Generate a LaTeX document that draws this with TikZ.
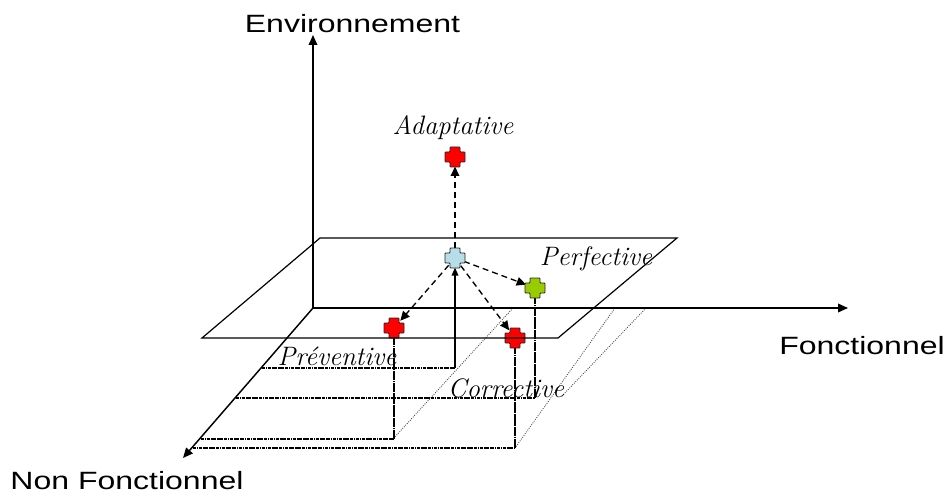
\documentclass[tikz,border=0pt]{standalone}
\usepackage{fontspec}
\setsansfont{Liberation Sans}
\usepackage{graphicx}
\usetikzlibrary{arrows.meta}
\definecolor{crossred}{HTML}{FF0000}
\definecolor{crossblue}{HTML}{B6DDE8}
\definecolor{crossgreen}{HTML}{99CC00}
\begin{document}
\begin{tikzpicture}[x=0.75pt,y=-0.75pt,
  axis/.style={line width=1.1pt,-{Triangle[length=7.5pt,width=6.5pt]}},
  planeline/.style={line width=0.9pt},
  proj/.style={line width=1pt,dash pattern=on 2.5pt off 0.6pt on 0.6pt off 0.6pt},
  vproj/.style={line width=1pt,dash pattern=on 7pt off 0.6pt on 0.6pt off 0.6pt},
  boxline/.style={line width=0.65pt,black!75,densely dotted},
  dasharrow/.style={line width=1pt,dash pattern=on 4.5pt off 3pt,-{Triangle[length=7pt,width=6.5pt]}},
  crossmark/.style={circle,minimum size=14pt,inner sep=0pt},
  crossshape/.style={line width=0.6pt,draw=black!85,rounded corners=0.6pt},
  axislabel/.style={font=\sffamily\fontsize{18.75pt}{22pt}\selectfont,inner sep=0pt,anchor=base},
  typelabel/.style={font=\itshape\fontsize{20pt}{24pt}\selectfont,inner sep=0pt,anchor=base},
]
\useasboundingbox (0,0) rectangle (949,499);

% axes
\coordinate (O) at (313,308);
\coordinate (envtip) at (313,35);
\coordinate (fonctip) at (848,308);
\coordinate (nftip) at (183,458);

% thin box lines
\draw[boxline] (513,308) -- (393,439);
\draw[boxline] (615,308) -- (515,448);
\draw[boxline] (646,308) -- (562,396);

% crosses (positions)
\node[crossmark] (adapt) at (455,157) {};
\node[crossmark] (centre) at (455,258) {};
\node[crossmark] (perf) at (535,288) {};
\node[crossmark] (prev) at (394,328) {};
\node[crossmark] (corr) at (515,338) {};

% projection corners
\coordinate (a1) at (262,368); \coordinate (b1) at (455,368);
\coordinate (a2) at (236,398); \coordinate (b2) at (535,398);
\coordinate (a3) at (201,439); \coordinate (b3) at (394,439);
\coordinate (a4) at (193,448); \coordinate (b4) at (515,448);

\draw[proj] (a1) -- (b1);
\draw[proj] (a2) -- (b2);
\draw[proj] (a3) -- (b3);
\draw[proj] (a4) -- (b4);
\draw[line width=1pt,-{Triangle[length=6pt,width=5pt]}] (b1) -- (centre);
\draw[vproj] (b2) -- (perf);
\draw[vproj] (b3) -- (prev);
\draw[vproj] (b4) -- (corr);

% axes
\draw[axis] (O) -- (envtip);
\draw[axis] (O) -- (fonctip);
\draw[axis] (O) -- (nftip);

% dashed arrows
\draw[dasharrow] (centre) -- (adapt);
\draw[dasharrow] (centre) -- (perf);
\draw[dasharrow] (centre) -- (prev);
\draw[dasharrow] (centre) -- (corr);

% crosses
\foreach \n/\c in {adapt/crossred, centre/crossblue, perf/crossgreen, prev/crossred, corr/crossred}
  \draw[crossshape, fill=\c, shift={(\n.center)}]
    (-5,-10) -- (5,-10) -- (5,-5) -- (10,-5) -- (10,5) -- (5,5) -- (5,10)
    -- (-5,10) -- (-5,5) -- (-10,5) -- (-10,-5) -- (-5,-5) -- cycle;

% plane
\draw[planeline] (320,238) -- (677,238) -- (558,338) -- (202,338) -- cycle;

% labels
\node[axislabel] (env) at (352.5,33) {\scalebox{1.28}[1]{Environnement}};
\node[axislabel] (fonc) at (862,354) {\scalebox{1.28}[1]{Fonctionnel}};
\node[axislabel] (nonf) at (127,489) {\scalebox{1.28}[1]{Non Fonctionnel}};
\node[typelabel] (adaptlbl) at (453,135) {Adaptative};
\node[typelabel] (perflbl) at (596,265) {Perfective};
\node[typelabel] (prevlbl) at (337,365) {Préventive};
\node[typelabel] (corrlbl) at (506,397) {Corrective};
\end{tikzpicture}
\end{document}
